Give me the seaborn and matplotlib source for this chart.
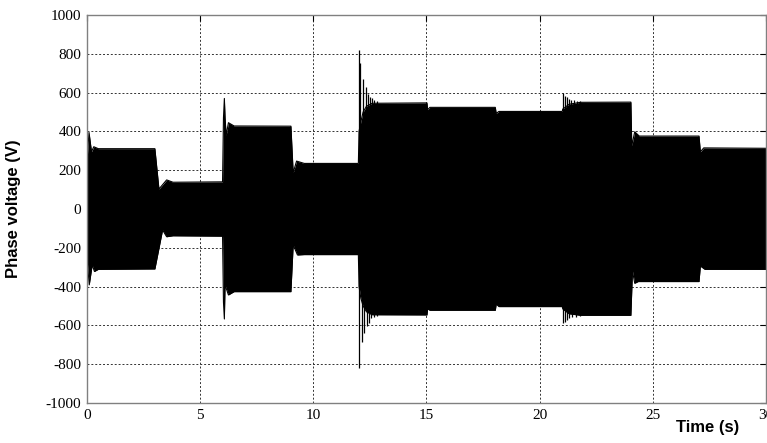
import numpy as np
import pandas as pd
import matplotlib
matplotlib.use('Agg')
import matplotlib.pyplot as plt
import seaborn as sns

# ===== DATA (envelope of the phase voltage) =====
# upper envelope
up_t = [0.0, 0.02, 0.09, 0.2, 0.3, 0.5, 3.0, 3.18, 3.52, 3.8, 5.99, 6.03, 6.07, 6.1, 6.15,
        6.25, 6.5, 9.01, 9.11, 9.26, 9.6, 11.99, 12.02, 12.1, 12.2, 12.35, 12.6, 15.02, 15.05,
        15.15, 18.04, 18.08, 18.2, 21.0, 21.02, 21.3, 21.8, 24.03, 24.07, 24.2, 24.4, 27.04,
        27.1, 27.25, 30.0]
up_v = [180, 280, 395, 295, 321, 311, 311, 103, 150, 138, 140, 470, 570, 470, 380,
        445, 428, 427, 187, 247, 235, 235, 400, 450, 500, 530, 545, 547, 512,
        524, 524, 493, 503, 503, 515, 540, 550, 551, 326, 398, 376, 376,
        295, 315, 313]

# lower envelope
lo_t = [0.0, 0.02, 0.1, 0.23, 0.33, 0.5, 3.0, 3.34, 3.52, 3.8, 5.99, 6.03, 6.07, 6.1, 6.25,
        6.5, 9.01, 9.11, 9.3, 9.6, 11.99, 12.02, 12.1, 12.2, 12.35, 12.6, 15.02, 15.05, 15.15,
        18.04, 18.08, 18.2, 21.0, 21.02, 21.3, 21.8, 24.03, 24.1, 24.2, 24.35, 27.04, 27.1,
        27.3, 30.0]
lo_v = [-180, -280, -391, -288, -322, -311, -309, -108, -143, -138, -140, -480, -567, -391, -443,
        -426, -426, -185, -237, -235, -235, -400, -460, -500, -530, -545, -546, -515, -522,
        -522, -490, -503, -503, -515, -540, -548, -548, -319, -383, -374, -374, -294,
        -311, -311]

# transient spikes (thin oscillation peaks)
spike_up_t = [12.03, 12.08, 12.2, 12.31, 12.43, 12.52, 12.6, 12.7, 12.8,
              21.04, 21.1, 21.2, 21.3, 21.4, 21.5, 21.65, 21.8]
spike_up_v = [819, 751, 668, 630, 592, 578, 570, 561, 556,
              599, 585, 575, 568, 563, 560, 557, 555]
spike_lo_t = [12.03, 12.16, 12.23, 12.35, 12.47, 12.57, 12.7, 12.8,
              21.04, 21.1, 21.2, 21.3, 21.45, 21.6, 21.8]
spike_lo_v = [-819, -683, -640, -603, -588, -563, -556, -550,
              -590, -580, -570, -563, -558, -555, -552]

x_ticks = [0, 5, 10, 15, 20, 25, 30]
y_ticks = [-1000, -800, -600, -400, -200, 0, 200, 400, 600, 800, 1000]

up_df = pd.DataFrame({'t': up_t, 'v': up_v})
lo_df = pd.DataFrame({'t': lo_t, 'v': lo_v})

# ===== STYLE =====
sns.set_style('white')
plt.rcParams['font.family'] = ['Liberation Serif', 'DejaVu Serif']
plt.rcParams['axes.unicode_minus'] = False

fig = plt.figure(figsize=(7.67, 4.43), dpi=100)
ax = fig.add_axes([0.1134, 0.0903, 0.8853, 0.8758])

# ===== PLOT =====
# each half filled a bit past zero so no seam shows at 0
ax.fill_between(up_df['t'], up_df['v'], -90, color='black', lw=0)
ax.fill_between(lo_df['t'], lo_df['v'], 90, color='black', lw=0)
sns.lineplot(data=up_df, x='t', y='v', color='black', lw=0.8, estimator=None, ax=ax)
sns.lineplot(data=lo_df, x='t', y='v', color='black', lw=0.8, estimator=None, ax=ax)
ax.vlines(spike_up_t, 0, spike_up_v, color='black', lw=0.9)
ax.vlines(spike_lo_t, spike_lo_v, 0, color='black', lw=0.9)

ax.set_xlim(0, 30)
ax.set_ylim(-1000, 1000)
ax.set_xticks(x_ticks)
ax.set_yticks(y_ticks)
ax.tick_params(direction='in', length=4, labelsize=11, colors='black', pad=4,
               top=True, right=True)
ax.set_axisbelow(True)
ax.grid(True, color='#333333', linestyle=(0, (2, 2)), lw=0.7)
for s in ax.spines.values():
    s.set_color('#808080')
    s.set_linewidth(1.0)

ax.set_xlabel('')
ax.set_ylabel('Phase voltage (V)', fontsize=12, fontweight='bold', family='Liberation Sans',
              color='black')
ax.yaxis.set_label_coords(-0.097, 0.5)
ax.text(0.961, -0.062, 'Time (s)', transform=ax.transAxes, ha='right', va='center',
        fontsize=12, fontweight='bold', family='Liberation Sans', color='black')

plt.savefig('out.png', dpi=100)
